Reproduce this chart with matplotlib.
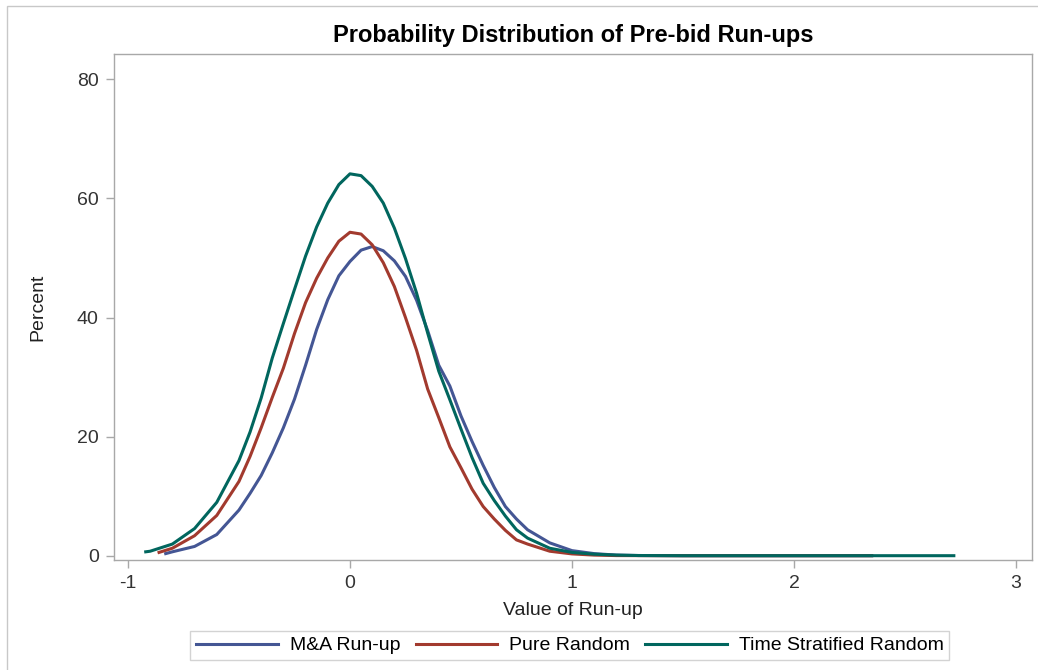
import matplotlib
matplotlib.use("Agg")
from matplotlib import pyplot as plt
from matplotlib.patches import Rectangle

plt.rcParams['font.family'] = ['Liberation Sans', 'DejaVu Sans']
plt.rcParams['axes.unicode_minus'] = False

# Data (Value of Run-up vs Percent)
ma_x = [-0.83, -0.8, -0.7, -0.6, -0.5, -0.45, -0.4, -0.35, -0.3, -0.25, -0.2, -0.15,
        -0.1, -0.05, 0.0, 0.05, 0.1, 0.15, 0.2, 0.25, 0.3, 0.35, 0.4, 0.45, 0.5,
        0.55, 0.6, 0.65, 0.7, 0.75, 0.8, 0.9, 1.0, 1.1, 1.2, 1.3, 1.5, 2.0, 2.35]
ma_y = [0.4, 0.7, 1.6, 3.6, 7.7, 10.5, 13.5, 17.3, 21.5, 26.3, 32.0, 38.0,
        43.0, 47.0, 49.4, 51.3, 51.9, 51.2, 49.5, 46.9, 42.9, 37.8, 32.0, 28.5, 23.5,
        19.2, 15.2, 11.5, 8.3, 6.2, 4.4, 2.2, 0.9, 0.4, 0.15, 0.08, 0.05, 0.05, 0.05]

pure_x = [-0.86, -0.8, -0.7, -0.6, -0.5, -0.45, -0.4, -0.35, -0.3, -0.25, -0.2, -0.15,
          -0.1, -0.05, 0.0, 0.05, 0.1, 0.15, 0.2, 0.25, 0.3, 0.35, 0.4, 0.45, 0.5,
          0.55, 0.6, 0.65, 0.7, 0.75, 0.8, 0.9, 1.0, 1.1, 1.2, 1.5, 2.0, 2.35]
pure_y = [0.6, 1.3, 3.4, 6.8, 12.5, 16.7, 21.5, 26.6, 31.5, 37.3, 42.5, 46.6,
          50.0, 52.8, 54.3, 54.0, 52.2, 49.2, 45.2, 40.0, 34.5, 28.0, 23.2, 18.3, 14.8,
          11.2, 8.3, 6.2, 4.3, 2.7, 2.0, 0.8, 0.35, 0.15, 0.07, 0.05, 0.05, 0.05]

strat_x = [-0.92, -0.9, -0.8, -0.7, -0.6, -0.5, -0.45, -0.4, -0.35, -0.3, -0.25, -0.2,
           -0.15, -0.1, -0.05, 0.0, 0.05, 0.1, 0.15, 0.2, 0.25, 0.3, 0.35, 0.4, 0.45,
           0.5, 0.55, 0.6, 0.65, 0.7, 0.75, 0.8, 0.9, 1.0, 1.1, 1.2, 1.3, 1.5, 2.0,
           2.35, 2.72]
strat_y = [0.7, 0.8, 2.0, 4.6, 9.0, 16.0, 20.8, 26.5, 33.2, 39.0, 44.7, 50.3,
           55.2, 59.2, 62.3, 64.1, 63.8, 62.0, 59.2, 55.0, 49.9, 44.1, 37.4, 31.0, 26.2,
           21.3, 16.5, 12.2, 9.3, 6.7, 4.4, 3.0, 1.3, 0.6, 0.3, 0.15, 0.08, 0.05, 0.05,
           0.05, 0.05]

x_ticks = [-1, 0, 1, 2, 3]
y_ticks = [0, 20, 40, 60, 80]

fig = plt.figure(figsize=(10.38, 6.70), dpi=100)
# light frame round the whole graph
fig.patches.append(Rectangle((0.0067, -0.01), 1.0, 1.001, transform=fig.transFigure,
                             fill=False, edgecolor='#c8c8c8', linewidth=1.0))
ax = fig.add_axes([0.1098, 0.1642, 0.8844, 0.7552])

ax.plot(ma_x, ma_y, color='#445694', linewidth=2.2, label='M&A Run-up')
ax.plot(pure_x, pure_y, color='#A23A2E', linewidth=2.2, label='Pure Random')
ax.plot(strat_x, strat_y, color='#01665E', linewidth=2.2, label='Time Stratified Random')

ax.set_xlim(-1.063, 3.072)
ax.set_ylim(-0.67, 84.2)
ax.set_xticks(x_ticks)
ax.set_yticks(y_ticks)
ax.tick_params(direction='out', length=6, width=1, color='#a8a8a8',
               labelsize=14, labelcolor='#333333', pad=5)
for s in ax.spines.values():
    s.set_color('#a8a8a8')
    s.set_linewidth(1.0)

ax.set_title('Probability Distribution of Pre-bid Run-ups', fontsize=17,
             fontweight='bold', pad=9)
ax.set_xlabel('Value of Run-up', fontsize=14, color='#222222', labelpad=7)
ax.set_ylabel('Percent', fontsize=14, color='#222222', labelpad=22)

leg = fig.legend(loc='lower center', bbox_to_anchor=(0.549, 0.0), ncol=3,
                 fontsize=14, frameon=True, fancybox=False, handlelength=4.2,
                 columnspacing=0.8, handletextpad=0.6, borderpad=0.3)
leg.get_frame().set_edgecolor('#c8c8c8')
leg.get_frame().set_linewidth(1.0)

fig.savefig('out.png', dpi=100)
